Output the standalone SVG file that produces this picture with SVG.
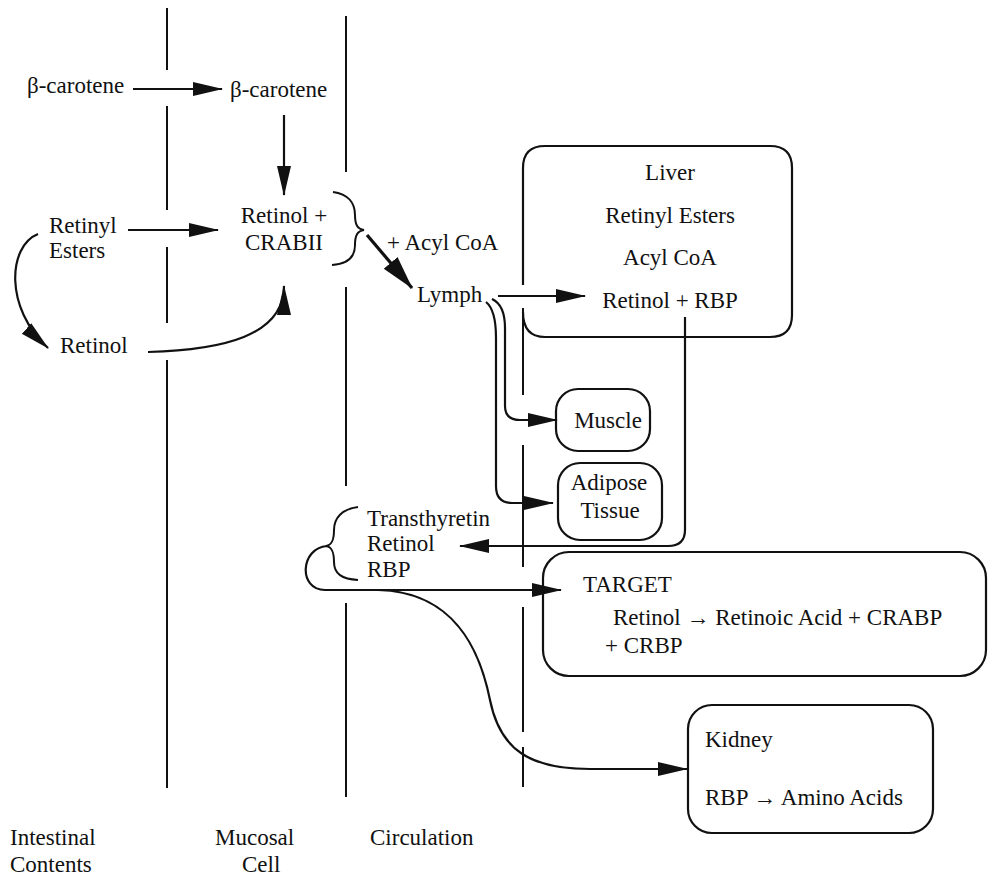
<svg xmlns="http://www.w3.org/2000/svg" width="990" height="879" viewBox="0 0 990 879">
<style>
text{font-family:'Liberation Serif','Times New Roman',Times,serif;font-size:23px;fill:#111}
.c{text-anchor:middle}
.ln{fill:none;stroke:#111;stroke-width:2}
.box{fill:none;stroke:#111;stroke-width:2.2}
.arr{fill:none;stroke:#111;stroke-width:2.2;marker-end:url(#ah)}
</style>
<defs>
<marker id="ah" markerUnits="userSpaceOnUse" markerWidth="30" markerHeight="16" viewBox="0 0 30 16" refX="29" refY="8" orient="auto">
<path d="M0,1 L30,8 L0,15 z" fill="#111"/>
</marker>
<marker id="ahb" markerUnits="userSpaceOnUse" markerWidth="34" markerHeight="20" viewBox="0 0 34 20" refX="33" refY="10" orient="auto">
<path d="M0,1 L34,10 L0,19 z" fill="#111"/>
</marker>
</defs>

<g id="dividers">
<path class="ln" d="M167,8 V70 M167,106 V210 M167,247 V323 M167,360 V788"/>
<path class="ln" d="M346,16 V172 M346,287 V486 M346,603 V797"/>
<path class="ln" d="M523,308 V395 M523,445 V567 M523,607 V732 M523,747 V787"/>
</g>

<g font-family="Liberation Serif, serif">
<g id="node-beta1"><text x="27" y="93">β-carotene</text></g>
<g id="node-beta2"><text x="230" y="97">β-carotene</text></g>
<g id="node-retinylesters"><text x="49" y="233">Retinyl</text><text x="49" y="258">Esters</text></g>
<g id="node-retinol"><text x="60" y="353">Retinol</text></g>
<g id="node-crabii"><text class="c" x="284" y="223">Retinol +</text><text class="c" x="284" y="250">CRABII</text>
<path class="ln" d="M333,192 C348,194 355,203 355,215 C355,224 357,229 364,230 C357,231 355,236 355,245 C355,257 348,264 332,265"/></g>
<g id="label-acyl"><text x="387" y="250">+ Acyl CoA</text></g>
<g id="node-lymph"><text x="417" y="302">Lymph</text></g>

<g id="node-liver">
<path class="box" d="M523,285 V168 Q523,146 545,146 H770 Q792,146 792,168 V315 Q792,337 770,337 H545 Q523,337 523,312"/>
<text class="c" x="670" y="180">Liver</text>
<text class="c" x="670" y="223">Retinyl Esters</text>
<text class="c" x="670" y="265">Acyl CoA</text>
<text class="c" x="670" y="308">Retinol + RBP</text>
</g>

<g id="node-muscle">
<rect class="box" x="556" y="389" width="94" height="62" rx="22"/>
<text class="c" x="608" y="428">Muscle</text>
</g>
<g id="node-adipose">
<rect class="box" x="558" y="463" width="104" height="77" rx="22"/>
<text class="c" x="609" y="490">Adipose</text>
<text class="c" x="610" y="518">Tissue</text>
</g>

<g id="node-transthyretin">
<text x="367" y="526">Transthyretin</text>
<text x="367" y="551">Retinol</text>
<text x="367" y="577">RBP</text>
<path class="ln" d="M358,507 C342,509 334,518 334,530 C334,540 332,545 326,546 C332,547 334,552 334,562 C334,574 342,579 358,580"/>
</g>

<g id="node-target">
<rect class="box" x="543" y="552" width="443" height="124" rx="26"/>
<text x="583" y="592">TARGET</text>
<text x="613" y="625">Retinol → Retinoic Acid + CRABP</text>
<text x="605" y="653">+ CRBP</text>
</g>

<g id="node-kidney">
<rect class="box" x="688" y="705" width="245" height="128" rx="24"/>
<text x="705" y="747">Kidney</text>
<text x="705" y="805">RBP → Amino Acids</text>
</g>

<g id="labels">
<text x="10" y="845">Intestinal</text>
<text x="10" y="872">Contents</text>
<text x="215" y="845">Mucosal</text>
<text x="242" y="872">Cell</text>
<text x="370" y="845">Circulation</text>
</g>
</g>

<g id="connectors">
<path class="arr" d="M133,89 H222"/>
<path class="arr" d="M284,115 V195"/>
<path class="arr" d="M128,230 H218"/>
<path class="arr" d="M38,234 C8,246 4,308 48,348"/>
<path class="arr" d="M148,352 C222,350 284,336 284,286"/>
<path fill="none" stroke="#111" stroke-width="3.2" marker-end="url(#ahb)" d="M367,235 L412,288"/>
<path class="arr" d="M498,296 H585"/>
<path class="arr" d="M492,299 Q505,305 505,328 V406 Q505,420 520,420 H557"/>
<path class="arr" d="M486,302 Q496,310 496,338 V486 Q496,503 512,503 H553"/>
<path class="arr" d="M685,317 V530 Q685,546 668,546 H460"/>
<path class="arr" d="M327,546 C300,548 298,590 325,590 H561"/>
<path class="arr" d="M378,590 C455,592 480,650 490,700 C500,750 530,769 590,769 H687"/>
</g>
</svg>
